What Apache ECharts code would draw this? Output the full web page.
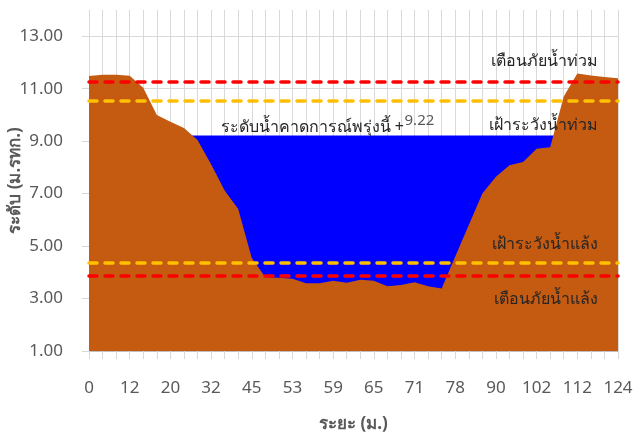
<!DOCTYPE html>
<html>
<head>
<meta charset="utf-8">
<script src="https://cdn.jsdelivr.net/npm/echarts@6/dist/echarts.min.js"></script>
<style>html,body{margin:0;padding:0;background:#fff}#c{width:636px;height:434px}</style>
</head>
<body>
<div id="c"></div>
<script>
// distance (m) categories
const distances = [0,4,8,12,15,18,20,24,28,32,36,40,45,48,51,53,55,57,59,61,63,65,67,69,71,73,75,78,82,86,90,94,98,102,105,109,112,116,120,124];
// ground elevation (m. MSL)
const groundLevel = [11.48,11.53,11.53,11.49,11.04,10.00,9.74,9.50,9.04,8.12,7.12,6.41,4.55,3.81,3.79,3.75,3.58,3.58,3.68,3.60,3.72,3.68,3.47,3.52,3.62,3.47,3.38,4.60,5.80,7.00,7.64,8.08,8.21,8.71,8.77,10.70,11.58,11.50,11.45,11.40];
// forecast water level for tomorrow
const waterLevel = 9.22;
// thresholds
const thresholdNames = ['เตือนภัยน้ำท่วม','เฝ้าระวังน้ำท่วม','เฝ้าระวังน้ำแล้ง','เตือนภัยน้ำแล้ง'];
const thresholdValues = [11.26, 10.53, 4.38, 3.87];
const thresholdColors = ['#FF0000','#FFC000','#FFC000','#FF0000'];
const thresholdLabelPos = ['insideEndTop','insideEndBottom','insideEndTop','insideEndBottom'];
const thresholdLabelGap = [12, 16, 10, 16];

const FONT = '"Noto Sans", "DejaVu Sans", sans-serif';
const chart = echarts.init(document.getElementById('c'), null, {renderer:'canvas'});
const waterData = distances.map(() => waterLevel);

chart.setOption({
  animation: false,
  textStyle: {fontFamily: FONT},
  grid: {left: 89, right: 18, top: 10, bottom: 83, containLabel: false, outerBoundsMode: 'none'},
  xAxis: {
    type: 'category',
    data: distances.map(String),
    boundaryGap: false,
    name: 'ระยะ (ม.)',
    nameLocation: 'middle',
    nameGap: 65,
    nameMoveOverlap: false,
    nameTextStyle: {fontSize: 17, fontWeight: 'bold', color: '#595959', fontFamily: FONT},
    axisLine: {show: true, lineStyle: {color: '#bfbfbf', width: 1}},
    axisTick: {show: true, interval: 0, length: 8, lineStyle: {color: '#d9d9d9'}},
    axisLabel: {interval: 2, color: '#595959', fontSize: 17, margin: 29, fontFamily: FONT},
    splitLine: {show: true, interval: 0, lineStyle: {color: '#d9d9d9', width: 1}}
  },
  yAxis: {
    type: 'value',
    min: 1, max: 14, interval: 2,
    name: 'ระดับ (ม.รทก.)',
    nameLocation: 'middle',
    nameGap: 65,
    nameMoveOverlap: false,
    nameTextStyle: {fontSize: 17, fontWeight: 'bold', color: '#595959', fontFamily: FONT},
    axisLine: {show: true, lineStyle: {color: '#d9d9d9'}},
    axisTick: {show: true, length: 7, lineStyle: {color: '#d9d9d9'}},
    axisLabel: {color: '#595959', fontSize: 17, margin: 26, showMaxLabel: false, formatter: v => v.toFixed(2), fontFamily: FONT},
    splitLine: {show: true, showMaxLine: false, lineStyle: {color: '#d9d9d9', width: 1}}
  },
  series: [
    {
      name: 'water',
      type: 'line',
      data: waterData,
      symbol: 'none',
      lineStyle: {width: 0},
      areaStyle: {color: '#0000FF', opacity: 1, origin: 'start'},
      z: 2,
      markPoint: {
        symbol: 'circle', symbolSize: 0,
        silent: true,
        data: [
          {coord: [10, waterLevel], label: {show: true, position: [-4, -16], formatter: 'ระดับน้ำคาดการณ์พรุ่งนี้ +', color: '#262626', fontSize: 16, fontFamily: FONT}},
          {coord: [24, waterLevel], label: {show: true, position: [-10, -22], formatter: String(waterLevel.toFixed(2)), color: '#595959', fontSize: 15, fontFamily: FONT}}
        ]
      }
    },
    {
      name: 'ground',
      type: 'line',
      data: groundLevel,
      symbol: 'none',
      lineStyle: {width: 0},
      areaStyle: {color: '#C55A11', opacity: 1, origin: 'start'},
      z: 3,
      markLine: {
        silent: true,
        symbol: ['none','none'],
        data: thresholdValues.map((v, i) => ({
          yAxis: v,
          name: thresholdNames[i],
          lineStyle: {color: thresholdColors[i], width: 3.5, type: [8, 8], cap: 'round'},
          label: {show: true, position: thresholdLabelPos[i], formatter: thresholdNames[i], color: '#262626', fontSize: 16, distance: [20, thresholdLabelGap[i]], fontFamily: FONT}
        }))
      }
    }
  ]
});
</script>
</body>
</html>
